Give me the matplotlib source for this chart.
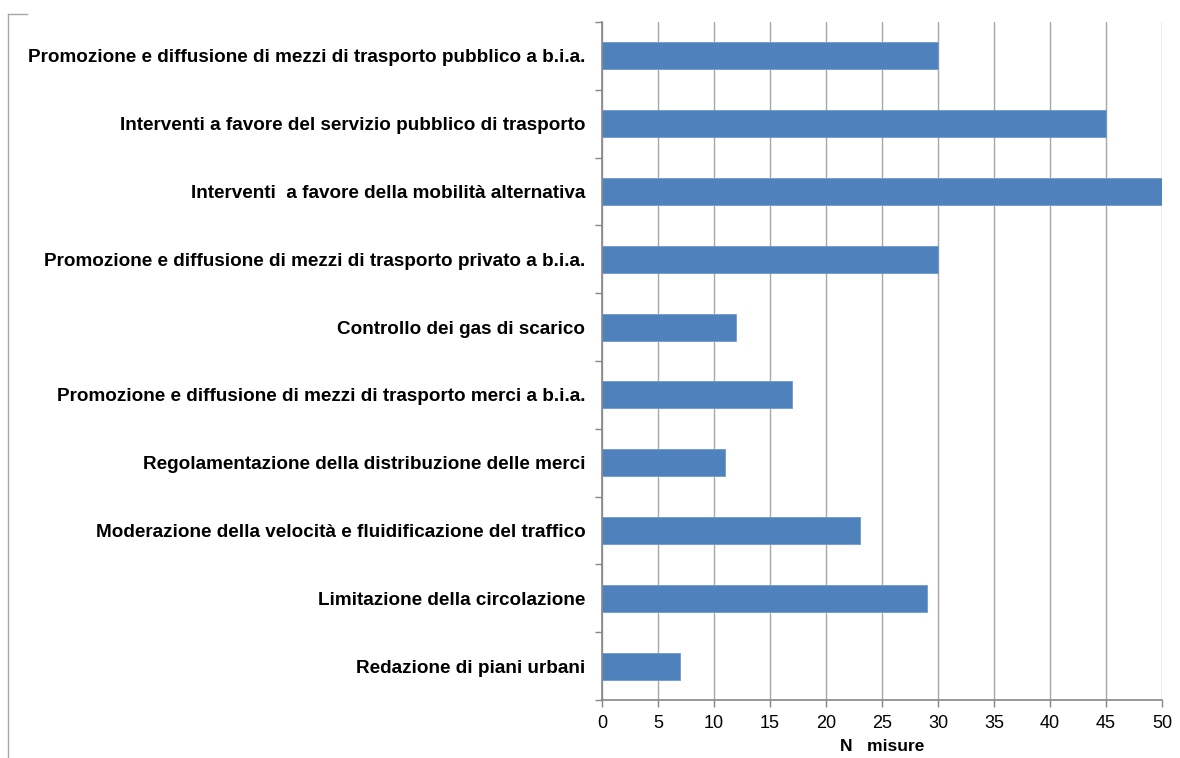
import numpy as np
import matplotlib.pyplot as plt
from matplotlib.lines import Line2D

categories = [
    "Promozione e diffusione di mezzi di trasporto pubblico a b.i.a.",
    "Interventi a favore del servizio pubblico di trasporto",
    "Interventi  a favore della mobilità alternativa",
    "Promozione e diffusione di mezzi di trasporto privato a b.i.a.",
    "Controllo dei gas di scarico",
    "Promozione e diffusione di mezzi di trasporto merci a b.i.a.",
    "Regolamentazione della distribuzione delle merci",
    "Moderazione della velocità e fluidificazione del traffico",
    "Limitazione della circolazione",
    "Redazione di piani urbani",
]
values = [30, 45, 50, 30, 12, 17, 11, 23, 29, 7]
xticks = np.arange(0, 51, 5)

plt.rcParams['font.family'] = ['Liberation Sans', 'DejaVu Sans']

fig = plt.figure(figsize=(11.8, 7.58), dpi=100)
ax = fig.add_axes([602 / 1180, 1 - 700 / 758, 560 / 1180, 678 / 758])

y = np.arange(len(categories))[::-1]
ax.barh(y, values, height=0.4, color='#4F81BD', edgecolor='#6F9AD0', linewidth=0.6, zorder=2)

ax.set_xlim(0, 50)
ax.set_ylim(-0.5, len(categories) - 0.5)
ax.set_xticks(xticks)
ax.set_xticklabels([str(t) for t in xticks], fontsize=13)
ax.xaxis.grid(True, color='#A6A6A6', linewidth=1.0, zorder=0)

ax.set_yticks(y)
ax.set_yticklabels(categories, fontsize=13.6, fontweight='bold')
ax.tick_params(axis='y', length=0, pad=12)
ax.set_yticks(np.arange(-0.5, len(categories), 1), minor=True)
ax.tick_params(axis='y', which='minor', length=5, color='#868686', width=1)
ax.tick_params(axis='x', length=5, color='#868686', width=1, pad=6)

ax.set_xlabel("N   misure", fontsize=12.5, fontweight='bold', labelpad=5)

for s in ['top', 'right']:
    ax.spines[s].set_visible(False)
for s in ['left', 'bottom']:
    ax.spines[s].set_color('#868686')
    ax.spines[s].set_linewidth(1.2)

# partial outer frame of the original chart area
fig.add_artist(Line2D([8 / 1180, 8 / 1180], [0, 1 - 14 / 758], color='#A6A6A6', linewidth=1))
fig.add_artist(Line2D([8 / 1180, 27 / 1180], [1 - 14 / 758, 1 - 14 / 758], color='#A6A6A6', linewidth=1))

fig.savefig("out.png", dpi=100)
